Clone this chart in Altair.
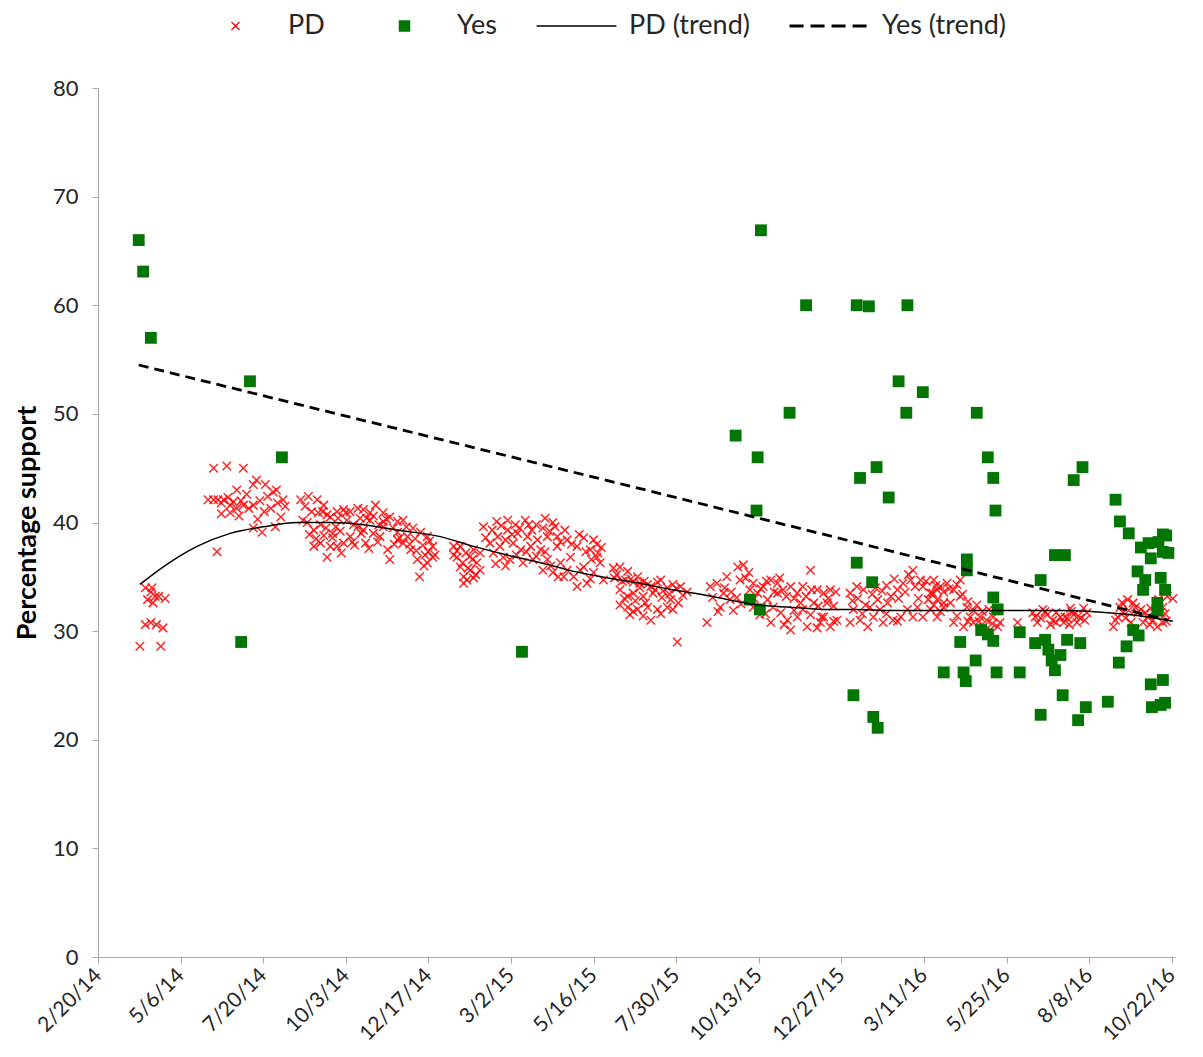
import altair as alt
import pandas as pd

# ---------------- data (days after 2/20/14, percentage support) ----------------
pd_a_day = [38, 57, 43, 48, 53, 59, 45, 48, 52, 55, 61, 50, 43, 49]
pd_a_pct = [28.6, 28.6, 30.6, 30.8, 30.6, 30.3, 32.9, 33.6, 33.2, 33.2, 33.0, 32.6, 34.0, 34.0]

pd_b_day = [105, 117, 132, 144, 141, 126, 100, 105, 109, 114, 120, 126, 132, 137, 141, 120, 154, 159, 168, 157,
            166, 161, 149, 141, 108]
pd_b_pct = [45.0, 45.2, 45.0, 43.9, 43.5, 43.0, 42.1, 42.1, 42.1, 42.1, 41.6, 41.3, 41.6, 41.3, 41.6, 40.9, 42.4,
            42.8, 42.1, 41.3, 40.5, 39.6, 39.1, 39.5, 37.3]
pd_b2_day = [112, 118, 123, 130, 135, 147, 151, 163, 145, 112, 128, 152, 162, 170]
pd_b2_pct = [41.8, 42.3, 41.9, 42.0, 42.6, 42.0, 41.0, 41.8, 40.3, 40.8, 40.6, 43.5, 43.0, 41.5]

pd_c_day = [184, 191, 199, 205, 204, 211, 217, 223, 229, 236, 241, 247, 252, 259, 265, 272, 277, 286, 293, 299,
            304, 304, 299, 290, 284, 277, 272, 265, 263, 256, 250, 241, 236, 229, 223, 217, 211, 208, 202, 196,
            190, 196, 202, 186, 216, 243, 231, 292, 281, 272, 259, 259, 247, 238, 226, 218, 208]
pd_c_pct = [42.1, 42.4, 42.1, 41.6, 41.0, 40.5, 41.0, 41.2, 41.0, 41.3, 41.2, 40.9, 41.6, 40.9, 40.5, 40.1, 40.2,
            39.5, 39.1, 38.7, 37.8, 36.8, 36.3, 36.6, 37.5, 38.1, 38.4, 36.6, 37.5, 38.7, 39.0, 39.3, 39.6, 38.7,
            38.1, 37.8, 37.8, 36.8, 38.1, 37.8, 40.0, 39.3, 39.8, 40.2, 39.6, 38.1, 38.2, 35.0, 38.7, 39.1, 39.6,
            40.1, 40.2, 40.4, 40.2, 40.4, 40.7]
pd_c2_day = [188, 194, 200, 207, 213, 220, 225, 232, 239, 244, 250, 255, 262, 268, 274, 280, 288, 295, 301,
             289, 297, 283, 269, 254, 246, 233, 221, 213, 205, 198, 192, 300, 306, 296]
pd_c2_pct = [41.5, 41.0, 40.9, 39.5, 39.0, 39.2, 40.9, 39.8, 39.0, 40.4, 40.6, 39.8, 40.3, 39.5, 38.6, 39.6, 38.5,
             37.9, 38.3, 37.4, 37.0, 38.0, 38.0, 38.2, 37.6, 37.9, 37.2, 38.6, 38.8, 38.5, 38.9, 37.3, 37.0, 36.0]

pd_d_day = [323, 326, 329, 332, 335, 341, 338, 344, 347, 341, 334, 329, 340, 347, 323, 332,
            350, 356, 363, 372, 379, 391, 404, 413, 372, 381, 390, 399, 408, 417, 426, 435, 441, 447, 454,
            359, 368, 374, 384, 393, 402, 408, 404, 413, 420, 426, 432, 435, 444, 450, 456, 441, 429, 417,
            395, 386, 377, 365, 450, 459]
pd_d_pct = [37.8, 36.8, 35.9, 35.0, 34.7, 34.9, 35.6, 36.3, 37.2, 37.5, 37.2, 37.8, 36.6, 35.6, 37.0, 34.4,
            39.6, 38.1, 38.7, 40.2, 39.8, 39.8, 39.5, 40.0, 39.3, 39.0, 38.7, 38.4, 38.7, 38.7, 38.4, 37.8, 38.6,
            37.5, 37.2, 37.2, 36.8, 36.6, 37.5, 37.8, 37.5, 36.6, 35.6, 35.4, 36.3, 35.6, 35.0, 34.1, 34.4, 35.4,
            36.3, 35.9, 36.8, 37.8, 36.6, 36.3, 38.1, 37.8, 38.4, 34.7]
pd_d2_day = [326, 331, 336, 343, 338, 352, 358, 362, 366, 370, 376, 383, 388, 394, 398, 406, 410, 415, 420, 424,
             430, 437, 443, 448, 453, 457, 361, 370, 380, 389, 398, 406, 411, 418, 423, 438, 447, 453]
pd_d2_pct = [37.4, 36.3, 35.8, 35.2, 36.9, 38.6, 39.3, 40.1, 39.7, 38.4, 38.9, 39.5, 40.2, 39.3, 39.8, 40.4, 39.2,
             39.6, 38.2, 39.3, 38.0, 38.9, 37.3, 36.6, 38.0, 37.7, 36.2, 36.0, 37.0, 37.3, 36.9, 37.3, 36.0, 35.0,
             35.0, 35.6, 34.8, 36.8]

pd_e_day = [468, 474, 481, 471, 479, 486, 492, 499, 508, 511, 517, 522, 529, 535, 474, 481, 486, 495, 504,
            481, 490, 499, 508, 517, 522, 474, 483, 502, 526, 492, 520]
pd_e_pct = [35.8, 35.9, 35.5, 35.2, 34.7, 34.5, 34.4, 34.3, 34.5, 34.7, 34.0, 34.3, 34.1, 33.6, 33.8, 33.2,
            33.5, 33.2, 33.5, 32.2, 32.0, 32.2, 32.0, 32.2, 32.0, 32.4, 31.5, 31.0, 29.0, 34.0, 32.9]
pd_e2_day = [469, 476, 484, 490, 496, 502, 506, 513, 519, 525, 531, 478, 488, 497, 512, 527, 486, 495, 511]
pd_e2_pct = [34.9, 34.6, 34.8, 35.0, 34.6, 34.1, 33.8, 33.7, 33.4, 33.9, 33.3, 33.0, 32.8, 32.6, 33.1, 32.6, 31.8,
             31.4, 31.6]

pd_f_day = [553, 556, 562, 568, 574, 565, 577, 581, 586, 591, 583, 595, 604, 611, 617, 622, 629, 635, 640, 647,
            653, 659, 665, 608, 613, 620, 626, 629, 635, 640, 644, 653, 659, 665, 671, 662, 650, 601, 611, 617,
            599, 571, 592]
pd_f_pct = [30.8, 34.1, 34.4, 33.5, 32.9, 32.2, 31.9, 35.9, 36.1, 35.4, 34.7, 34.4, 34.1, 34.7, 34.4, 33.8, 34.1,
            33.5, 34.1, 35.6, 33.8, 33.5, 33.8, 32.9, 32.2, 31.7, 31.0, 30.1, 31.3, 32.0, 30.4, 30.3, 31.3, 30.4,
            31.0, 32.6, 32.6, 31.5, 30.8, 33.5, 33.5, 35.0, 33.8]
pd_f2_day = [558, 563, 569, 575, 580, 588, 596, 602, 607, 614, 619, 625, 632, 638, 643, 648, 654, 657, 663, 668,
             670, 623, 632, 647, 656, 668, 606, 595, 584]
pd_f2_pct = [33.1, 31.8, 34.0, 33.6, 33.1, 34.9, 33.0, 33.9, 34.6, 33.6, 34.9, 33.2, 33.0, 32.6, 33.2, 33.8, 32.3,
             31.3, 33.0, 32.3, 33.6, 30.6, 31.9, 31.5, 30.8, 30.9, 31.6, 32.2, 32.5]

pd_g_day = [683, 689, 695, 686, 692, 683, 699, 704, 710, 717, 720, 726, 731, 738, 740, 747, 749, 756, 762,
            713, 722, 729, 735, 744, 749, 756, 762, 708, 701, 768]
pd_g_pct = [33.5, 34.1, 33.8, 32.0, 31.0, 30.8, 30.4, 31.3, 32.0, 32.6, 33.2, 33.8, 34.4, 34.7, 35.6, 34.7, 34.1,
            33.5, 33.8, 30.8, 31.0, 31.3, 32.0, 32.2, 31.3, 32.0, 31.3, 32.9, 32.2, 32.6]
pd_g2_day = [685, 690, 697, 703, 706, 712, 716, 723, 727, 733, 736, 742, 745, 752, 754, 759, 765, 694, 716, 740,
             726]
pd_g2_pct = [32.8, 33.0, 32.4, 33.4, 34.0, 33.7, 34.2, 34.8, 33.0, 33.6, 35.2, 34.1, 33.0, 34.6, 32.9, 32.4, 31.8,
             31.6, 31.6, 31.3, 30.9]

pd_h_day = [759, 765, 771, 777, 783, 762, 768, 774, 789, 795, 801, 807, 813, 819, 777, 786, 795, 804, 810, 817,
            758, 783, 792, 835]
pd_h_pct = [34.7, 34.1, 34.4, 33.8, 33.2, 32.9, 32.2, 32.6, 32.2, 31.9, 31.3, 31.0, 31.3, 30.8, 30.8, 30.4, 30.8,
            30.4, 30.1, 30.4, 33.5, 34.7, 31.3, 30.8]
pd_h2_day = [761, 768, 773, 780, 785, 790, 798, 803, 809, 815, 780, 790, 800, 812]
pd_h2_pct = [34.2, 33.6, 33.9, 34.3, 33.4, 32.7, 32.4, 31.8, 32.0, 31.9, 31.4, 30.9, 30.9, 30.7]

pd_i_day = [849, 856, 862, 867, 874, 880, 886, 892, 898, 853, 865, 877, 889, 858, 883, 895]
pd_i_pct = [31.7, 31.2, 31.5, 31.0, 31.3, 31.2, 31.5, 31.2, 31.7, 30.8, 30.6, 30.8, 30.8, 32.0, 32.1, 32.1]
pd_i2_day = [851, 860, 870, 878, 884, 890, 896, 870, 882]
pd_i2_pct = [31.3, 31.8, 31.7, 31.3, 31.8, 31.4, 31.0, 30.8, 30.6]

pd_j_day = [922, 926, 928, 935, 940, 947, 953, 958, 965, 967, 971, 938, 949, 962, 967, 931, 944, 976]
pd_j_pct = [30.4, 31.3, 32.2, 32.9, 32.6, 32.0, 31.3, 31.0, 31.7, 32.2, 33.2, 30.8, 30.8, 30.4, 30.8, 31.7, 31.7,
            33.0]
pd_j2_day = [924, 930, 933, 942, 951, 956, 960, 963, 969, 936, 955, 970]
pd_j2_pct = [31.0, 32.6, 31.2, 32.2, 31.7, 32.1, 31.6, 32.9, 31.6, 31.9, 30.6, 30.9]

yes_day = [37, 41, 48, 138, 130, 167, 385, 579, 599, 598, 592, 601, 602, 628, 643, 686, 689, 700, 692, 707,
           689, 703, 704, 708, 718, 727, 735, 734, 749, 768, 783, 786, 788, 789, 789, 797, 798, 802, 808, 813,
           815, 813, 817, 808, 813, 816, 837, 837, 856, 851, 856, 860, 863, 866, 869, 878, 869, 874, 876, 880,
           886, 894, 890, 897, 892, 917, 924, 928, 927, 934, 936, 940, 944, 947, 949, 945, 951, 954, 956, 956,
           957, 962, 963, 965, 967, 967, 967, 969, 965, 970, 972, 969, 962]
yes_pct = [66.0, 63.1, 57.0, 53.0, 29.0, 46.0, 28.1, 48.0, 46.0, 41.1, 32.9, 32.0, 66.9, 50.1, 60.0, 24.1, 60.0,
           59.9, 44.1, 45.1, 36.3, 34.5, 22.1, 21.1, 42.3, 53.0, 60.0, 50.1, 52.0, 26.2, 29.0, 26.2, 25.4, 36.6,
           35.6, 27.3, 50.1, 30.1, 46.0, 44.1, 41.1, 33.1, 32.0, 29.7, 29.1, 26.2, 29.9, 26.2, 34.7, 28.9, 22.3,
           29.2, 28.3, 27.3, 37.0, 37.0, 26.4, 27.8, 24.1, 29.2, 43.9, 45.1, 21.8, 23.0, 28.9, 23.5, 42.1, 40.1,
           27.1, 28.6, 39.0, 30.1, 35.5, 37.7, 33.8, 29.6, 34.7, 38.1, 36.7, 25.1, 23.0, 32.6, 38.2, 34.9, 38.9,
           37.3, 25.5, 23.4, 23.2, 38.8, 37.2, 33.8, 31.9]

pd_trend_day = [38, 59, 90, 120, 150, 181, 211, 241, 272, 311, 341, 372, 402, 432, 463, 492, 522, 547, 572, 599,
                629, 659, 689, 720, 765, 817, 877, 917, 938, 976]
pd_trend_pct = [34.3, 35.9, 37.8, 39.0, 39.6, 40.0, 40.0, 39.8, 39.3, 38.7, 37.8, 37.0, 36.3, 35.5, 34.9, 34.4,
                33.8, 33.4, 32.9, 32.4, 32.2, 32.0, 32.0, 31.9, 31.9, 31.9, 31.9, 31.7, 31.5, 30.9]

yes_trend_day = [37, 505, 972]
yes_trend_pct = [54.5, 42.8, 31.0]

tick_days = list(range(0, 976, 75))          # 2/20/14 ... 10/22/16
x_domain_days = [0, 978]
y_ticks = list(range(0, 81, 10))
series = ["PD", "Yes", "PD (trend)", "Yes (trend)"]

# ---------------- helpers ----------------
BASE = pd.Timestamp("2014-02-20", tz="UTC")


def to_ms(days):
    return [int((BASE + pd.Timedelta(days=d)).timestamp() * 1000) for d in days]


pd_days = (pd_a_day + pd_b_day + pd_b2_day + pd_c_day + pd_c2_day + pd_d_day + pd_d2_day + pd_e_day + pd_e2_day
           + pd_f_day + pd_f2_day + pd_g_day + pd_g2_day + pd_h_day + pd_h2_day + pd_i_day + pd_i2_day
           + pd_j_day + pd_j2_day)
pd_vals = (pd_a_pct + pd_b_pct + pd_b2_pct + pd_c_pct + pd_c2_pct + pd_d_pct + pd_d2_pct + pd_e_pct + pd_e2_pct
           + pd_f_pct + pd_f2_pct + pd_g_pct + pd_g2_pct + pd_h_pct + pd_h2_pct + pd_i_pct + pd_i2_pct
           + pd_j_pct + pd_j2_pct)

df_pd = pd.DataFrame({"t": to_ms(pd_days), "pct": pd_vals, "series": "PD"})
df_yes = pd.DataFrame({"t": to_ms(yes_day), "pct": yes_pct, "series": "Yes"})
df_pdt = pd.DataFrame({"t": to_ms(pd_trend_day), "pct": pd_trend_pct, "series": "PD (trend)"})
df_yest = pd.DataFrame({"t": to_ms(yes_trend_day), "pct": yes_trend_pct, "series": "Yes (trend)"})

RED = "#FF0000"
GREEN = "#037503"
FONT = "Lato"
AXIS_GRAY = "#A6A6A6"
TEXT = "#262626"

legend = alt.Legend(
    title=None, orient="none", legendX=96, legendY=-79, direction="horizontal", columns=4,
    symbolSize=7225, clipHeight=34, symbolOffset=28, labelOffset=39, columnPadding=38, padding=0,
    rowPadding=0, labelFont=FONT, labelFontSize=27, labelColor=TEXT,
)
color = alt.Color("series:N", scale=alt.Scale(domain=series, range=[RED, GREEN, "#000000", "#000000"]),
                  legend=legend)

x = alt.X("t:T", title=None,
          scale=alt.Scale(type="utc", domain=to_ms(x_domain_days), nice=False),
          axis=alt.Axis(values=to_ms(tick_days), labelExpr="utcFormat(datum.value, '%-m/%-d/%y')",
                        labelAngle=-45, labelAlign="right", labelBaseline="middle", labelPadding=9,
                        labelFlush=False, labelOverlap=False, tickSize=6, grid=False,
                        domainColor=AXIS_GRAY, tickColor=AXIS_GRAY, labelFont=FONT, labelFontSize=21,
                        labelColor=TEXT))
y = alt.Y("pct:Q", title="Percentage support",
          scale=alt.Scale(domain=[0, 80], nice=False),
          axis=alt.Axis(values=y_ticks, tickSize=6, labelPadding=14, grid=False, labelFlush=False,
                        domainColor=AXIS_GRAY, tickColor=AXIS_GRAY, labelFont=FONT, labelFontSize=22,
                        labelColor=TEXT, titleFont=FONT, titleFontSize=27, titleFontWeight="bold",
                        titleColor="#000000", titlePadding=11))

pts_pd = alt.Chart(df_pd).mark_point(shape="M-1,-1L1,1M-1,1L1,-1", filled=False, size=72,
                                     strokeWidth=1.5, opacity=0.85).encode(x=x, y=y, color=color)
pts_yes = alt.Chart(df_yes).mark_square(size=140, opacity=1).encode(x=x, y=y, color=color)
line_pd = alt.Chart(df_pdt).mark_line(strokeWidth=1.5, interpolate="monotone").encode(x=x, y=y, color=color)
line_yes = alt.Chart(df_yest).mark_line(strokeWidth=2.8, strokeDash=[10, 6]).encode(x=x, y=y, color=color)

chart = alt.layer(pts_pd, pts_yes, line_pd, line_yes).properties(
    width=1077, height=869,
    autosize=alt.AutoSizeParams(type="none"),
    padding={"left": 90, "top": 80, "right": 16, "bottom": 92},
    background="white",
).configure_view(stroke=None)

# custom per-entry legend symbols (x, square, solid line, dashed line); all drawn at one
# symbol size, shapes scaled inside the path
X_PATH = "M-0.094,-0.094L0.094,0.094M-0.094,0.094L0.094,-0.094"
SQ_PATH = "M-0.12,-0.12H0.12V0.12H-0.12Z"
LINE_PATH = "M-0.94,0L0.94,0"
SYMBOLS = {
    "symbols": {
        "shape": {"value": {"expr": "datum.value == 'PD' ? '" + X_PATH + "' : datum.value == 'Yes' ? '"
                            + SQ_PATH + "' : '" + LINE_PATH + "'"}},
        "size": {"value": 7225},
        "fill": {"value": {"expr": "datum.value == 'Yes' ? '" + GREEN + "' : 'transparent'"}},
        "stroke": {"value": {"expr": "datum.value == 'PD' ? '" + RED + "' : datum.value == 'Yes' ? 'transparent' : '#000000'"}},
        "strokeWidth": {"value": {"expr": "datum.value == 'Yes (trend)' ? 3 : datum.value == 'PD (trend)' ? 1.5 : 1.3"}},
        "strokeDash": {"value": {"expr": "datum.value == 'Yes (trend)' ? [14, 7] : [1, 0]"}},
        "opacity": {"value": 1},
    }
}

_orig_to_dict = chart.to_dict


def _to_dict_with_legend(*args, **kwargs):
    d = _orig_to_dict(*args, **kwargs)
    for lyr in d.get("layer", []):
        enc = lyr.get("encoding", {})
        if "color" in enc and isinstance(enc["color"].get("legend"), dict):
            enc["color"]["legend"]["encoding"] = SYMBOLS
    return d


object.__setattr__(chart, "to_dict", _to_dict_with_legend)

chart.save("out.html", embed_options={"renderer": "svg", "actions": False})
